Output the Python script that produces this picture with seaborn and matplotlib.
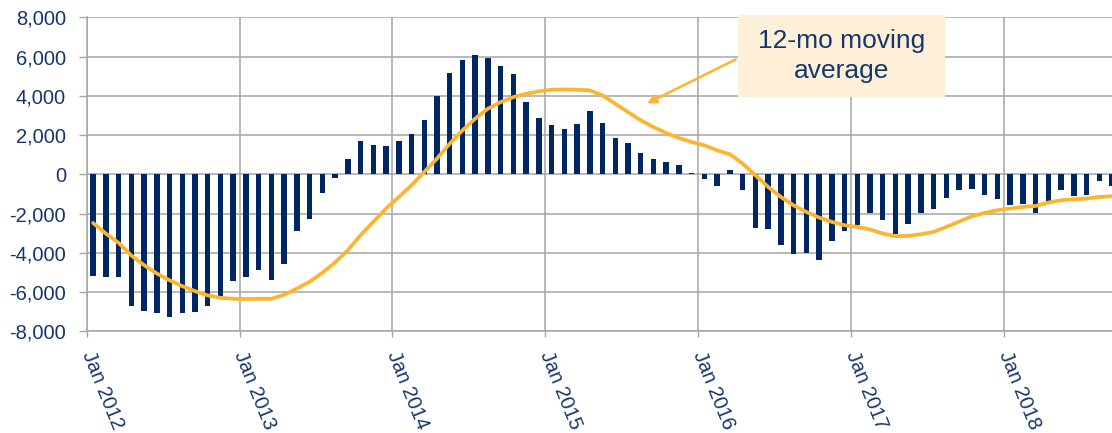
import numpy as np
import pandas as pd
import matplotlib
matplotlib.use("Agg")
import matplotlib.pyplot as plt
from matplotlib.patches import Rectangle
from matplotlib.ticker import FuncFormatter
import seaborn as sns

# Monatliche Werte, Jan 2012 - Sep 2018
monthly_change = [
    # 2012
    -5200, -5260, -5260, -6720, -6990, -7090, -7295, -7060, -7025, -6720, -6210, -5430,
    # 2013
    -5210, -4890, -5400, -4565, -2885, -2255, -950, -170, 780, 1695, 1490, 1425,
    # 2014
    1695, 2036, 2750, 3990, 5160, 5800, 6090, 5940, 5500, 5090, 3665, 2885,
    # 2015
    2530, 2310, 2580, 3207, 2596, 1850, 1595, 1070, 765, 610, 475, 50,
    # 2016
    -220, -575, 200, -780, -2730, -2765, -3615, -4040, -3990, -4360, -3410, -2870,
    # 2017
    -2560, -1970, -2325, -3055, -2530, -1985, -1750, -1190, -780, -745, -1050, -1255,
    # 2018
    -1580, -1530, -1950, -1425, -815, -1100, -1070, -340, -575,
]

# 12-mo moving average
moving_avg = [
    -2480, -3020, -3495, -4140, -4630, -5055, -5400, -5700, -5955, -6175, -6295, -6345,
    -6360, -6345, -6345, -6140, -5820, -5480, -5020, -4495, -3870, -3105, -2425, -1750,
    -1155, -560, 117, 800, 1560, 2240, 2835, 3345, 3680, 3935, 4105, 4225,
    4310, 4325, 4310, 4275, 4020, 3595, 3170, 2750, 2410, 2100, 1850, 1645,
    1475, 1220, 1020, 545, -50, -645, -1155, -1580, -1920, -2205, -2425, -2595,
    -2680, -2815, -3020, -3155, -3140, -3055, -2935, -2680, -2410, -2140, -1970, -1830,
    -1745, -1665, -1615, -1440, -1325, -1275, -1240, -1155, -1120,
]

months = pd.date_range("2012-01-01", periods=len(monthly_change), freq="MS")
df = pd.DataFrame({
    "idx": np.arange(len(months)),
    "change": monthly_change,
    "ma": moving_avg,
})

navy = "#002664"
orange = "#FDB52F"
text_col = "#17366B"
grid_col = "#A6A6A6"

sns.set_theme(style="white")
plt.rcParams["font.family"] = ["Liberation Sans", "DejaVu Sans"]

fig = plt.figure(figsize=(11.12, 4.33), dpi=100)
ax = fig.add_axes([0.078, 0.235, 0.922, 0.725])

sns.barplot(data=df, x="idx", y="change", native_scale=True, width=0.43,
            color=navy, saturation=1, errorbar=None, linewidth=0, ax=ax, zorder=2)
sns.lineplot(data=df, x="idx", y="ma", color=orange, linewidth=2.7, ax=ax, zorder=3)

# Achsen
jan_pos = [i - 0.5 for i, m in enumerate(months) if m.month == 1]
jan_lab = [f"Jan {m.year}" for m in months if m.month == 1]
ax.set_xticks(jan_pos)
ax.set_xticklabels(jan_lab, rotation=-68, ha="left", va="center",
                   rotation_mode="anchor", fontsize=14.5, color=text_col)
ax.set_xlim(-0.5, len(months) - 1)

ax.set_ylim(-8000, 8000)
ax.set_yticks(np.arange(-8000, 8001, 2000))
ax.yaxis.set_major_formatter(FuncFormatter(lambda v, p: f"{v:,.0f}"))
ax.tick_params(axis="y", labelsize=14.5, labelcolor=text_col, length=6,
               color=grid_col, width=1, pad=9, left=True)
ax.tick_params(axis="x", length=4, color=grid_col, width=1, pad=11, bottom=True)

ax.set_axisbelow(True)
ax.grid(True, color=grid_col, linewidth=1.1)
for side in ["top", "right"]:
    ax.spines[side].set_visible(False)
for side in ["left", "bottom"]:
    ax.spines[side].set_color(grid_col)
    ax.spines[side].set_linewidth(1.1)
ax.set_xlabel("")
ax.set_ylabel("")

# Beschriftungsbox
ax.add_patch(Rectangle((0.635, 0.747), 0.2025, 0.26, transform=ax.transAxes,
                       facecolor="#FEF0D8", edgecolor="none", zorder=5, clip_on=False))
ax.text(0.736, 0.877, "12-mo moving\naverage", transform=ax.transAxes,
        ha="center", va="center", fontsize=19, color=text_col,
        linespacing=1.3, zorder=6)
ax.annotate("", xy=(43.5, 3614), xytext=(50.45, 5854),
            arrowprops=dict(arrowstyle="-|>", color=orange, lw=1.8,
                            mutation_scale=13, shrinkA=0, shrinkB=0),
            zorder=6)

plt.savefig("out.png", dpi=100)
plt.close()
